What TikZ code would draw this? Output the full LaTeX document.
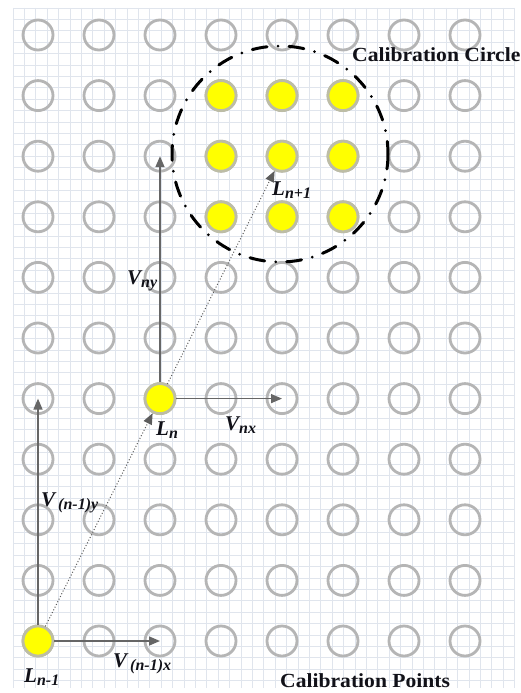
\documentclass[tikz,border=0pt]{standalone}
\usepackage{fontspec}
\setmainfont{Liberation Serif}
\usetikzlibrary{arrows.meta}
\definecolor{gridc}{HTML}{E0E5ED}
\definecolor{ringc}{HTML}{B5B5B5}
\definecolor{vecc}{HTML}{666666}
\definecolor{yelc}{HTML}{FFFF00}
\definecolor{yelb}{HTML}{BDBDA5}
\definecolor{txtc}{HTML}{111118}
\newcommand\mylbl[3]{{\fontsize{21}{24}\selectfont\bfseries\itshape #1}\kern#3\raisebox{-3pt}{\fontsize{16}{18}\selectfont\bfseries\itshape #2}}
\begin{document}
\begin{tikzpicture}[x=1pt,y=-1pt,
  ring/.style={circle,minimum size=30pt,inner sep=0pt,draw=ringc,line width=2.8pt},
  ydot/.style={circle,minimum size=30pt,inner sep=0pt,draw=yelb,fill=yelc,line width=2.8pt},
  vec/.style={draw=vecc,line width=1.5pt,-{Triangle[length=11pt,width=9pt]}},
  traj/.style={draw=vecc!90!black,line width=1pt,dotted,-{Triangle[length=11pt,width=9pt]}},
  calib/.style={draw=black,line width=3pt,line cap=round,dash pattern=on 15pt off 11pt on 0pt off 11pt},
  lbl/.style={anchor=base west,inner sep=0pt,text=txtc},
  ttl/.style={anchor=base west,inner sep=0pt,text=txtc,font=\fontsize{20}{24}\selectfont\bfseries}]
\useasboundingbox (0,0) rectangle (521,693);
\fill[white] (0,0) rectangle (521,693);
% grid
\foreach \k in {0,...,44} \draw[gridc,line width=0.7pt] ({13+11.4*\k},8) -- ({13+11.4*\k},688);
\foreach \k in {0,...,59} \draw[gridc,line width=0.7pt] (13,{8+11.4*\k}) -- (515,{8+11.4*\k});
% rings
\foreach \i in {0,...,7} \foreach \j in {0,...,10}
  \node[ring] (c-\i-\j) at ({38+61*\i},{35+60.6*\j}) {};
% yellow points
\foreach \i in {3,4,5} \foreach \j in {1,2,3}
  \node[ydot] (y-\i-\j) at (c-\i-\j) {};
\node[ydot] (Ln) at (c-2-6) {};
\node[ydot] (Lnm1) at (c-0-10) {};
% trajectory
\draw[traj] (Lnm1) -- (Ln);
\draw[traj] (Ln) -- (y-4-2);
% vectors
\draw[vec] (Lnm1) -- (c-0-6.center);
\draw[vec] (Lnm1) -- (c-2-10.center);
\draw[vec] (Ln) -- (c-2-2.center);
\draw[vec] (Ln) -- (c-4-6.center);
% calibration circle
\draw[calib] (280,154) circle[radius=108];
% labels
\node[lbl] (lvny) at (127,284) {\mylbl{V}{ny}{0pt}};
\node[lbl] (lln) at (156,435) {\mylbl{L}{n}{0pt}};
\node[lbl] (lvnx) at (225,430) {\mylbl{V}{nx}{0pt}};
\node[lbl] (lvn1y) at (41,506) {\mylbl{V}{(n-1)y}{3pt}};
\node[lbl] (lvn1x) at (113,667) {\mylbl{V}{(n-1)x}{3pt}};
\node[lbl] (lln1) at (24,682) {\mylbl{L}{n-1}{0pt}};
\node[lbl] (llnp1) at (272,195) {\mylbl{L}{n+1}{0pt}};
\node[ttl] (tcc) at (352,62) {\scalebox{1.08}[1]{Calibration Circle}};
\node[ttl] (tcp) at (280,687) {\scalebox{1.08}[1]{Calibration Points}};
\end{tikzpicture}
\end{document}
